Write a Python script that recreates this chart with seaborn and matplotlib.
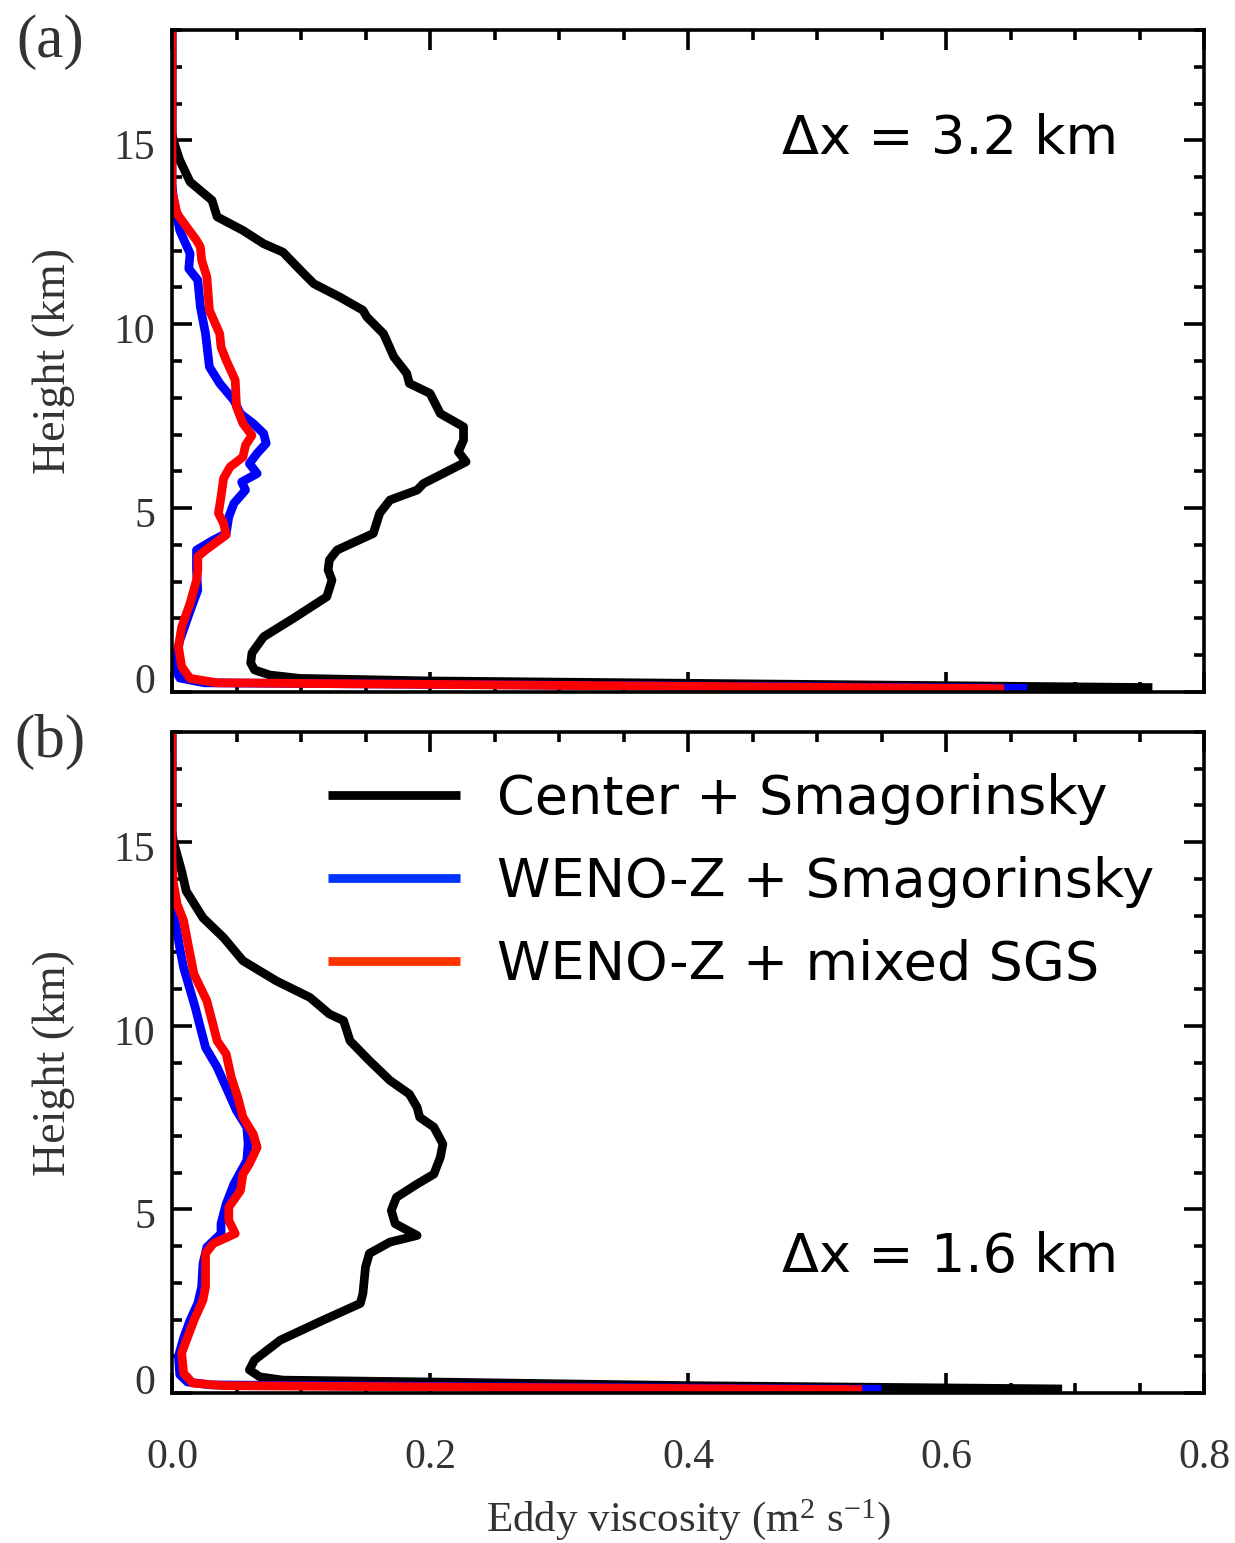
import numpy as np
import pandas as pd
import seaborn as sns
import matplotlib
matplotlib.use("Agg")
import matplotlib.pyplot as plt
from matplotlib.lines import Line2D
from matplotlib.ticker import MultipleLocator
import matplotlib.transforms as mtransforms

sns.set_theme(style="white")
plt.rcParams["font.family"] = ["Liberation Serif", "DejaVu Serif"]
plt.rcParams["mathtext.fontset"] = "custom"
plt.rcParams["mathtext.rm"] = "Liberation Serif"
plt.rcParams["mathtext.it"] = "Liberation Serif:italic"

# ---------------- data (eddy viscosity v [m2/s] vs height h [km]) ----------------
series_labels = ["Center + Smagorinsky", "WENO-Z + Smagorinsky", "WENO-Z + mixed SGS"]
series_colors = ["#000000", "#0000ff", "#ff0000"]
legend_colors = ["#000000", "#0033ff", "#ff3300"]
panel_labels = ["(a)", "(b)"]
panel_dx = ["\u0394x = 3.2 km", "\u0394x = 1.6 km"]

a_center_h = [18, 15.2, 15.0, 14.46, 13.87, 13.37, 12.92, 12.55, 12.19, 11.96, 11.38, 11.1, 10.74,
              10.38, 10.2, 9.74, 9.11, 8.66, 8.39, 8.12, 7.57, 7.21, 6.85, 6.53, 6.26, 5.67, 5.49,
              5.22, 4.86, 4.31, 3.86, 3.59, 3.32, 3.04, 2.59, 2.0, 1.5, 1.06, 0.79, 0.6, 0.46, 0.37,
              0.30, 0.22, 0.12]
a_center_v = [0, 0, 0.001, 0.006, 0.014, 0.031, 0.035, 0.055, 0.071, 0.086, 0.102, 0.110, 0.130,
              0.148, 0.151, 0.164, 0.172, 0.182, 0.184, 0.200, 0.208, 0.226, 0.226, 0.222, 0.228, 0.195,
              0.190, 0.169, 0.161, 0.156, 0.128, 0.122, 0.121, 0.124, 0.120, 0.094, 0.071, 0.062,
              0.061, 0.064, 0.076, 0.099, 0.20, 0.45, 0.76]

a_blue_h = [18, 13.8, 13.46, 12.55, 11.92, 11.51, 11.2, 10.47, 9.74, 8.84, 8.39, 7.93, 7.57, 7.30,
            7.03, 6.76, 6.49, 6.21, 5.94, 5.71, 5.49, 5.13, 4.76, 4.31, 4.13, 3.86, 3.32, 2.77, 2.2,
            1.4, 0.87, 0.6, 0.38, 0.25, 0.10]
a_blue_v = [0, 0, 0.001, 0.006, 0.014, 0.013, 0.020, 0.022, 0.026, 0.029, 0.037, 0.048, 0.053, 0.063,
            0.071, 0.073, 0.066, 0.060, 0.066, 0.054, 0.057, 0.048, 0.044, 0.042, 0.032, 0.019, 0.019,
            0.020, 0.014, 0.006, 0.003, 0.003, 0.006, 0.025, 0.663]

a_red_h = [18, 13.6, 13.46, 13.0, 12.28, 12.1, 11.74, 11.29, 10.38, 9.74, 9.38, 9.02, 8.48, 7.75,
           7.30, 6.98, 6.71, 6.39, 6.12, 5.81, 5.31, 4.86, 4.58, 4.27, 3.86, 3.68, 3.32, 3.04, 2.41,
           1.77, 1.23, 0.69, 0.37, 0.25, 0.09]
a_red_v = [0, 0, 0.001, 0.004, 0.019, 0.022, 0.023, 0.027, 0.029, 0.037, 0.038, 0.042, 0.049, 0.050,
           0.055, 0.062, 0.057, 0.055, 0.045, 0.040, 0.038, 0.036, 0.040, 0.042, 0.026, 0.020, 0.020,
           0.019, 0.014, 0.0075, 0.005, 0.0075, 0.014, 0.035, 0.645]

b_center_h = [18, 15.3, 15.03, 14.21, 13.67, 12.94, 12.40, 11.77, 11.22, 10.77, 10.32, 10.14, 9.59,
              9.05, 8.51, 8.14, 7.78, 7.51, 7.24, 6.78, 6.42, 5.96, 5.69, 5.33, 4.97, 4.61, 4.29, 4.11,
              3.80, 3.43, 2.71, 2.44, 1.98, 1.44, 0.9, 0.63, 0.44, 0.35, 0.30, 0.20, 0.11]
b_center_v = [0, 0, 0.001, 0.0075, 0.011, 0.024, 0.040, 0.055, 0.081, 0.107, 0.122, 0.133, 0.138,
              0.153, 0.169, 0.184, 0.190, 0.192, 0.203, 0.210, 0.208, 0.203, 0.190, 0.174, 0.170, 0.173,
              0.190, 0.169, 0.153, 0.150, 0.148, 0.146, 0.117, 0.084, 0.064, 0.060, 0.068, 0.086, 0.20,
              0.40, 0.69]

b_blue_h = [18, 14.0, 13.76, 12.94, 12.12, 11.58, 10.86, 10.5, 9.95, 9.41, 8.87, 8.32, 7.69, 7.24,
            6.78, 6.33, 5.69, 5.15, 4.61, 4.34, 3.97, 3.52, 2.89, 2.44, 1.98, 1.5, 1.0, 0.5, 0.3, 0.22,
            0.10]
b_blue_v = [0, 0, 0.001, 0.002, 0.006, 0.009, 0.015, 0.018, 0.022, 0.026, 0.035, 0.042, 0.050, 0.058,
            0.059, 0.058, 0.048, 0.042, 0.038, 0.038, 0.027, 0.024, 0.023, 0.020, 0.014, 0.009, 0.005,
            0.006, 0.012, 0.030, 0.55]

b_red_h = [18, 14.5, 13.9, 13.31, 12.86, 12.12, 11.41, 10.68, 10.14, 9.59, 9.23, 8.59, 8.05, 7.51,
           7.05, 6.69, 6.24, 5.96, 5.51, 5.06, 4.70, 4.34, 4.07, 3.80, 2.89, 2.53, 1.98, 1.09, 0.54,
           0.27, 0.20, 0.09]
b_red_v = [0, 0, 0.001, 0.004, 0.009, 0.013, 0.017, 0.027, 0.031, 0.035, 0.042, 0.046, 0.051, 0.055,
           0.063, 0.066, 0.060, 0.055, 0.053, 0.044, 0.044, 0.049, 0.032, 0.026, 0.026, 0.024, 0.017,
           0.0075, 0.009, 0.016, 0.040, 0.535]

panels = [
    [(a_center_v, a_center_h), (a_blue_v, a_blue_h), (a_red_v, a_red_h)],
    [(b_center_v, b_center_h), (b_blue_v, b_blue_h), (b_red_v, b_red_h)],
]

x_ticks = [0.0, 0.2, 0.4, 0.6, 0.8]
y_ticks = [0, 5, 10, 15]

# ---------------- figure ----------------
W, H = 1235, 1543
fig = plt.figure(figsize=(W / 100, H / 100), dpi=100)
ax_a = fig.add_axes([172 / W, 1 - 692 / H, (1204 - 172) / W, (692 - 30) / H])
ax_b = fig.add_axes([172 / W, 1 - 1393 / H, (1204 - 172) / W, (1393 - 732) / H])
axes = [ax_a, ax_b]

tick_color = "#333333"
LW = 6.3

for i, ax in enumerate(axes):
    for (v, h), lab, col in zip(panels[i], series_labels, series_colors):
        df = pd.DataFrame({"v": v, "h": h})
        sns.lineplot(data=df, x="v", y="h", sort=False, estimator=None, ax=ax,
                     color=col, linewidth=LW, solid_capstyle="butt", solid_joinstyle="round",
                     legend=False)
    ax.set_xlim(0, 0.8)
    ax.set_ylim(0, 18)
    ax.set_xticks(x_ticks)
    ax.set_yticks(y_ticks)
    ax.xaxis.set_minor_locator(MultipleLocator(0.05))
    ax.yaxis.set_minor_locator(MultipleLocator(1))
    ax.tick_params(which="both", direction="in", top=True, right=True, bottom=True, left=True,
                   width=2.6, color="black")
    ax.tick_params(which="major", length=14.5)
    ax.tick_params(which="minor", length=7.5)
    ax.tick_params(axis="y", which="major", labelsize=30, labelcolor=tick_color, pad=12)
    ax.tick_params(axis="x", which="major", labelsize=30, labelcolor=tick_color, pad=33)
    for s in ax.spines.values():
        s.set_linewidth(2.6)
        s.set_color("black")
    ax.set_xlabel("")
    ax.set_ylabel("Height (km)", fontsize=33, color=tick_color, labelpad=28)
    ax.set_yticklabels([str(t) for t in y_ticks])
    # shift the "0" label upward, others slightly downward
    for lbl, t in zip(ax.get_yticklabels(), y_ticks):
        dy = 14 if t == 0 else -4
        lbl.set_transform(lbl.get_transform() + mtransforms.ScaledTranslation(0, dy / 100, fig.dpi_scale_trans))
    ax.text(0.917, 0.835 if i == 0 else 0.206, panel_dx[i], transform=ax.transAxes,
            ha="right", va="center", fontsize=39, family="DejaVu Sans", color="black")
    ax.set_facecolor("white")

ax_a.set_xticklabels([])
ax_b.set_xticklabels(["0.0", "0.2", "0.4", "0.6", "0.8"])
ax_b.set_xlabel("Eddy viscosity (m$^{2}$ s$^{-1}$)", fontsize=31, color=tick_color, labelpad=14)

fig.text(50 / W, 1 - 42 / H, panel_labels[0], fontsize=44, color=tick_color, ha="center", va="center")
fig.text(50 / W, 1 - 742 / H, panel_labels[1], fontsize=44, color=tick_color, ha="center", va="center")

handles = [Line2D([0], [0], color=c, lw=LW, solid_capstyle="butt") for c in legend_colors]
leg = ax_b.legend(handles, series_labels, loc="upper left", bbox_to_anchor=(0.151, 0.938),
                  frameon=False, prop={"family": "DejaVu Sans", "size": 39},
                  handlelength=2.44, handletextpad=0.685, labelspacing=0.57,
                  borderpad=0, borderaxespad=0, labelcolor="black")

fig.savefig("out.png", dpi=100, facecolor="white")
